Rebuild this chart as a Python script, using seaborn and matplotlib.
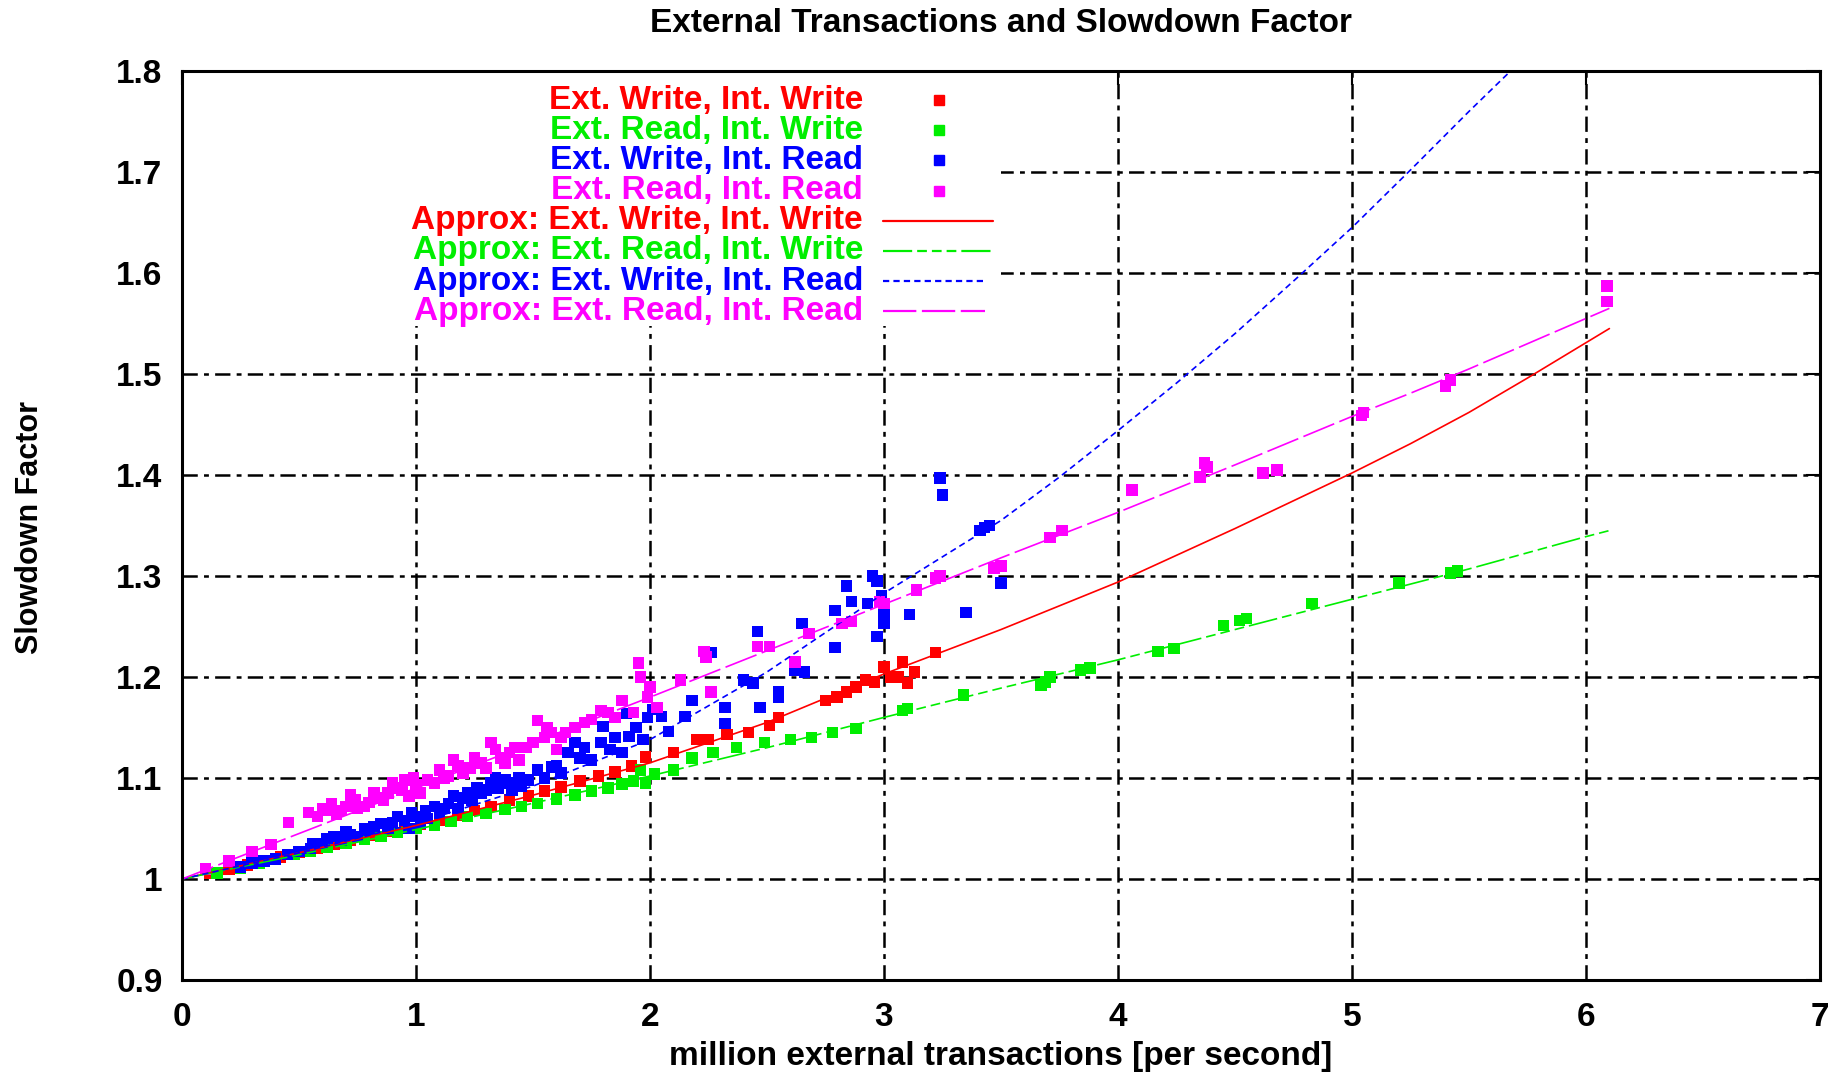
import matplotlib
matplotlib.use("Agg")
import matplotlib.pyplot as plt
from matplotlib.patches import Rectangle
import seaborn as sns
import pandas as pd
import numpy as np

# ---------------- data ----------------
series_names = ["Ext. Write, Int. Write", "Ext. Read, Int. Write",
                "Ext. Write, Int. Read", "Ext. Read, Int. Read"]
series_colors = ["#ff0000", "#00ee00", "#0000ff", "#ff00ff"]

ww_pts = [(0.12, 1.006), (0.2, 1.01), (0.28, 1.014), (0.35, 1.018), (0.42, 1.022), (0.5, 1.026),
          (0.58, 1.03), (0.65, 1.034), (0.72, 1.038), (0.8, 1.043), (0.88, 1.047), (0.95, 1.05),
          (1.02, 1.054), (1.1, 1.058), (1.18, 1.063), (1.25, 1.068), (1.32, 1.072), (1.4, 1.078),
          (1.48, 1.082), (1.55, 1.087), (1.62, 1.091), (1.7, 1.097), (1.78, 1.102), (1.85, 1.106),
          (1.92, 1.112), (1.98, 1.121), (2.1, 1.125), (2.2, 1.138), (2.25, 1.138), (2.33, 1.143),
          (2.42, 1.145), (2.51, 1.152), (2.55, 1.16), (2.75, 1.177), (2.8, 1.18), (2.84, 1.185),
          (2.88, 1.19), (2.92, 1.197), (2.96, 1.195), (3.0, 1.21), (3.03, 1.2), (3.06, 1.2),
          (3.08, 1.215), (3.1, 1.194), (3.13, 1.205), (3.22, 1.224)]

rw_pts = [(0.15, 1.006), (0.25, 1.011), (0.33, 1.016), (0.4, 1.02), (0.48, 1.024), (0.55, 1.027),
          (0.62, 1.031), (0.7, 1.035), (0.78, 1.039), (0.85, 1.042), (0.92, 1.046), (1.0, 1.05),
          (1.08, 1.053), (1.15, 1.057), (1.22, 1.062), (1.3, 1.065), (1.38, 1.069), (1.45, 1.072),
          (1.52, 1.075), (1.6, 1.079), (1.68, 1.083), (1.75, 1.087), (1.82, 1.09), (1.88, 1.094),
          (1.93, 1.097), (1.96, 1.108), (1.98, 1.095), (2.02, 1.104), (2.1, 1.108), (2.18, 1.12),
          (2.27, 1.125), (2.37, 1.13), (2.49, 1.135), (2.6, 1.138), (2.69, 1.14), (2.78, 1.145),
          (2.88, 1.149), (3.08, 1.167), (3.1, 1.169), (3.34, 1.182), (3.67, 1.192), (3.69, 1.195),
          (3.71, 1.2), (3.84, 1.207), (3.88, 1.209), (4.17, 1.225), (4.24, 1.228), (4.45, 1.251),
          (4.52, 1.256), (4.55, 1.258), (4.83, 1.273), (5.2, 1.293), (5.42, 1.303), (5.45, 1.305)]

wr_pts = [(0.25, 1.012), (0.3, 1.016), (0.35, 1.018), (0.4, 1.02), (0.45, 1.024), (0.5, 1.027),
          (0.55, 1.03), (0.56, 1.035), (0.6, 1.035), (0.62, 1.04), (0.65, 1.042), (0.68, 1.038),
          (0.7, 1.047), (0.72, 1.044), (0.75, 1.042), (0.78, 1.05), (0.8, 1.048), (0.82, 1.052),
          (0.85, 1.055), (0.88, 1.05), (0.9, 1.056), (0.92, 1.062), (0.95, 1.058), (0.97, 1.05),
          (0.98, 1.066), (1.0, 1.062), (1.02, 1.055), (1.04, 1.068), (1.05, 1.06), (1.08, 1.072),
          (1.1, 1.065), (1.12, 1.07), (1.14, 1.075), (1.16, 1.082), (1.18, 1.07), (1.2, 1.08),
          (1.22, 1.085), (1.24, 1.078), (1.26, 1.09), (1.28, 1.085), (1.3, 1.088), (1.32, 1.095),
          (1.34, 1.1), (1.35, 1.09), (1.38, 1.098), (1.4, 1.095), (1.41, 1.088), (1.44, 1.1),
          (1.45, 1.092), (1.48, 1.098), (1.52, 1.108), (1.55, 1.1), (1.58, 1.111), (1.6, 1.112),
          (1.62, 1.105), (1.65, 1.125), (1.68, 1.135), (1.7, 1.12), (1.72, 1.13), (1.75, 1.118),
          (1.79, 1.135), (1.8, 1.151), (1.83, 1.128), (1.85, 1.14), (1.88, 1.125), (1.9, 1.164),
          (1.91, 1.141), (1.94, 1.15), (1.97, 1.138), (1.99, 1.16), (2.01, 1.168), (2.05, 1.161),
          (2.08, 1.146), (2.15, 1.161), (2.18, 1.177), (2.26, 1.224), (2.32, 1.17), (2.32, 1.154),
          (2.4, 1.197), (2.44, 1.194), (2.46, 1.245), (2.47, 1.17), (2.55, 1.185), (2.55, 1.18),
          (2.62, 1.207), (2.65, 1.253), (2.66, 1.205), (2.79, 1.266), (2.79, 1.229), (2.84, 1.29),
          (2.86, 1.275), (2.93, 1.273), (2.95, 1.3), (2.97, 1.295), (2.97, 1.24), (2.99, 1.28),
          (3.0, 1.253), (3.0, 1.262), (3.11, 1.262), (3.24, 1.397), (3.25, 1.38), (3.35, 1.264),
          (3.41, 1.345), (3.43, 1.348), (3.45, 1.35), (3.5, 1.293)]

rr_pts = [(0.1, 1.01), (0.2, 1.018), (0.3, 1.027), (0.38, 1.034), (0.456, 1.056), (0.54, 1.066),
          (0.58, 1.062), (0.6, 1.07), (0.62, 1.068), (0.64, 1.075), (0.66, 1.064), (0.68, 1.068),
          (0.7, 1.072), (0.72, 1.083), (0.74, 1.078), (0.75, 1.07), (0.78, 1.072), (0.8, 1.076),
          (0.82, 1.085), (0.84, 1.08), (0.86, 1.078), (0.88, 1.085), (0.9, 1.095), (0.92, 1.09),
          (0.94, 1.088), (0.95, 1.098), (0.97, 1.082), (0.99, 1.1), (1.0, 1.093), (1.02, 1.085),
          (1.05, 1.098), (1.08, 1.095), (1.1, 1.108), (1.12, 1.1), (1.14, 1.102), (1.16, 1.118),
          (1.18, 1.112), (1.2, 1.105), (1.23, 1.11), (1.25, 1.12), (1.28, 1.115), (1.3, 1.11),
          (1.32, 1.135), (1.34, 1.128), (1.36, 1.12), (1.38, 1.115), (1.4, 1.125), (1.42, 1.13),
          (1.44, 1.118), (1.47, 1.13), (1.5, 1.135), (1.52, 1.157), (1.55, 1.14), (1.56, 1.15),
          (1.58, 1.145), (1.6, 1.128), (1.62, 1.14), (1.64, 1.145), (1.68, 1.15), (1.72, 1.155),
          (1.75, 1.158), (1.79, 1.167), (1.82, 1.165), (1.85, 1.16), (1.88, 1.177), (1.93, 1.165),
          (1.95, 1.214), (1.96, 1.2), (1.99, 1.18), (2.0, 1.19), (2.03, 1.17), (2.13, 1.197),
          (2.23, 1.225), (2.24, 1.22), (2.26, 1.185), (2.46, 1.23), (2.51, 1.23), (2.62, 1.215),
          (2.68, 1.243), (2.82, 1.253), (2.86, 1.255), (2.98, 1.275), (3.0, 1.273), (3.14, 1.286),
          (3.22, 1.298), (3.24, 1.3), (3.47, 1.308), (3.5, 1.31), (3.71, 1.338), (3.76, 1.345),
          (4.06, 1.385), (4.35, 1.398), (4.37, 1.412), (4.38, 1.408), (4.62, 1.402), (4.68, 1.405),
          (5.04, 1.459), (5.05, 1.462), (5.4, 1.488), (5.42, 1.494), (6.09, 1.587), (6.09, 1.572)]

# approximation curves
fit_x = [0, 0.5, 1, 1.5, 2, 2.5, 3, 3.5, 4, 4.5, 5, 5.25, 5.5, 5.75, 6, 6.1]
fit_ww = [1.0, 1.026, 1.053, 1.083, 1.115, 1.155, 1.203, 1.247, 1.294, 1.347, 1.402, 1.431,
          1.462, 1.496, 1.531, 1.545]
fit_rw = [1.0, 1.024, 1.049, 1.075, 1.102, 1.13, 1.16, 1.189, 1.217, 1.247, 1.277, 1.292,
          1.307, 1.323, 1.339, 1.345]
fit_rr = [1.0, 1.045, 1.09, 1.135, 1.18, 1.226, 1.272, 1.318, 1.363, 1.41, 1.458, 1.481,
          1.505, 1.53, 1.555, 1.565]
fit_wr_x = [0, 0.5, 1, 1.5, 2, 2.5, 3, 3.5, 3.75, 4, 4.25, 4.5, 4.75, 5, 5.25, 5.5, 5.7]
fit_wr = [1.0, 1.026, 1.055, 1.092, 1.138, 1.205, 1.283, 1.355, 1.398, 1.444, 1.491, 1.54,
          1.592, 1.645, 1.702, 1.76, 1.805]

x_ticks = [0, 1, 2, 3, 4, 5, 6, 7]
y_ticks = [0.9, 1.0, 1.1, 1.2, 1.3, 1.4, 1.5, 1.6, 1.7, 1.8]
y_tick_labels = ["0.9", "1", "1.1", "1.2", "1.3", "1.4", "1.5", "1.6", "1.7", "1.8"]

title = "External Transactions and Slowdown Factor"
x_label = "million external transactions [per second]"
y_label = "Slowdown Factor"

# ---------------- style ----------------
sns.set_theme(style="white")
plt.rcParams["font.family"] = ["Liberation Sans", "DejaVu Sans"]
plt.rcParams["font.weight"] = "bold"
plt.rcParams["lines.scale_dashes"] = False

W, H = 1847, 1076
fig = plt.figure(figsize=(W / 100, H / 100), dpi=100)
ax = fig.add_axes([182 / W, 1 - 980 / H, 1638 / W, 909 / H])

frames = []
for name, pts in zip(series_names, [ww_pts, rw_pts, wr_pts, rr_pts]):
    arr = np.array(pts)
    frames.append(pd.DataFrame({"x": arr[:, 0], "y": arr[:, 1], "series": name}))
df = pd.concat(frames, ignore_index=True)

sns.scatterplot(data=df, x="x", y="y", hue="series", hue_order=series_names,
                palette=series_colors, marker="s", s=68, linewidth=0,
                legend=False, ax=ax, zorder=2)

line_styles = [
    (fit_x, fit_ww, "-"),
    (fit_x, fit_rw, (0, (21, 3.6, 7, 3.6, 7, 3.6, 7, 3.6))),
    (fit_wr_x, fit_wr, (0, (4.5, 3))),
    (fit_x, fit_rr, (0, (24, 4))),
]
for (xs, ys, ls), c in zip(line_styles, series_colors):
    ax.plot(xs, ys, color=c, linestyle=ls, linewidth=1.2, zorder=3)

ax.set_xlim(0, 7)
ax.set_ylim(0.9, 1.8)
ax.set_xticks(x_ticks)
ax.set_xticklabels([str(t) for t in x_ticks])
ax.set_yticks(y_ticks)
ax.set_yticklabels(y_tick_labels)
ax.set_xlabel("")
ax.set_ylabel("")

grid_style = dict(color="black", linewidth=1.8, linestyle=(0, (11, 4.5, 3.5, 4.5)), zorder=0.5)
for xt in x_ticks[1:-1]:
    ax.axvline(xt, **grid_style)
for yt in y_ticks[1:-1]:
    ax.axhline(yt, **grid_style)

ax.tick_params(direction="in", top=True, right=True, length=10, width=1.5,
               labelsize=24, colors="black")
ax.tick_params(axis="y", pad=14)
ax.tick_params(axis="x", pad=16)
for lab in ax.get_xticklabels() + ax.get_yticklabels():
    lab.set_fontweight("bold")
for sp in ax.spines.values():
    sp.set_color("black")
    sp.set_linewidth(2.2)
    sp.set_zorder(4)

# key (opaque box like gnuplot)
ax.add_patch(Rectangle((0, 0.719), 0.50, 0.281, transform=ax.transAxes,
                       facecolor="white", edgecolor="none", zorder=1))
row_y0, row_dy = 0.968, 0.0332
text_x = 0.4158
labels_all = series_names + ["Approx: " + n for n in series_names]
for i, lab in enumerate(labels_all):
    c = series_colors[i % 4]
    yy = row_y0 - i * row_dy
    ax.text(text_x, yy, lab, transform=ax.transAxes, ha="right", va="center",
            color=c, fontsize=24, fontweight="bold", zorder=5)
    if i < 4:
        ax.plot([0.462], [yy], transform=ax.transAxes, marker="s", markersize=6.5,
                color=c, linestyle="none", zorder=5, clip_on=False)
    else:
        _, _, ls = line_styles[i - 4]
        x_end = 0.495 if i < 6 else 0.490
        ax.plot([0.428, x_end], [yy, yy], transform=ax.transAxes, color=c,
                linestyle=ls, linewidth=1.6, zorder=5, clip_on=False)

fig.text(1001 / W, 1 - 24 / H, title, ha="center", va="center", fontsize=24,
         fontweight="bold", color="black")
fig.text(1001 / W, 1 - 1057 / H, x_label, ha="center", va="center", fontsize=24,
         fontweight="bold", color="black")
fig.text(30 / W, 1 - 527 / H, y_label, ha="center", va="center", rotation=90,
         fontsize=22, fontweight="bold", color="black")

fig.savefig("out.png", dpi=100, facecolor="white")
